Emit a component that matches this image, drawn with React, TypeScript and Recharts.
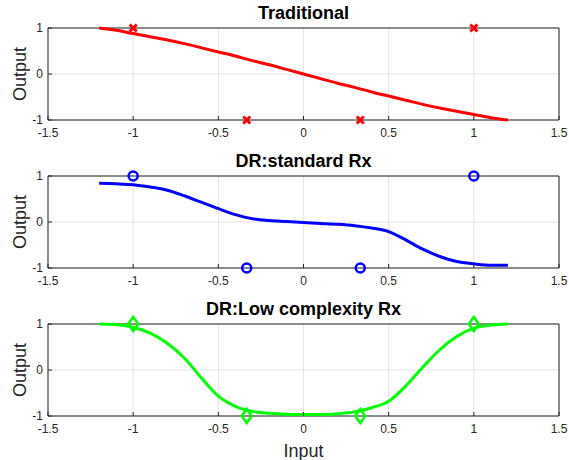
import React from 'react';
import { ComposedChart, Line, Scatter, XAxis, YAxis, CartesianGrid, ReferenceArea } from 'recharts';

const xTicks = [-1.5, -1, -0.5, 0, 0.5, 1, 1.5];
const yTicks = [-1, 0, 1];
const titles = ['Traditional', 'DR:standard Rx', 'DR:Low complexity Rx'];

const curveX = [-1.2, -1.1, -1.0, -0.9, -0.8, -0.7, -0.6, -0.5, -0.4, -0.3, -0.2, -0.1, 0, 0.1, 0.2, 0.3, 0.4, 0.5, 0.6, 0.7, 0.8, 0.9, 1.0, 1.1, 1.2];
const traditionalY = [1.0, 0.95, 0.88, 0.81, 0.74, 0.66, 0.57, 0.48, 0.39, 0.29, 0.2, 0.1, 0, -0.1, -0.2, -0.29, -0.39, -0.48, -0.57, -0.66, -0.74, -0.81, -0.88, -0.95, -1.0];
const standardY = [0.84, 0.83, 0.81, 0.76, 0.69, 0.57, 0.43, 0.29, 0.16, 0.07, 0.03, 0.01, -0.01, -0.03, -0.05, -0.08, -0.13, -0.21, -0.39, -0.59, -0.75, -0.86, -0.91, -0.94, -0.94];
const lowComplexityY = [1.0, 0.99, 0.93, 0.8, 0.58, 0.26, -0.17, -0.57, -0.79, -0.9, -0.94, -0.96, -0.97, -0.97, -0.95, -0.91, -0.82, -0.68, -0.35, 0.06, 0.44, 0.73, 0.91, 0.98, 1.0];

const pointX = [-1, -1 / 3, 1 / 3, 1];
const pointY = [1, -1, -1, 1];

const toRows = (ys: number[]) => curveX.map((x, i) => ({ x, y: ys[i] }));
const points = pointX.map((x, i) => ({ x, y: pointY[i] }));

const FONT = '"Liberation Sans", Arial, Helvetica, sans-serif';

const XMark = (props: any) => {
  const { cx, cy } = props;
  const s = 3.5;
  return (
    <g stroke="#ff0000" strokeWidth={3}>
      <line x1={cx - s} y1={cy - s} x2={cx + s} y2={cy + s} />
      <line x1={cx - s} y1={cy + s} x2={cx + s} y2={cy - s} />
    </g>
  );
};
const OMark = (props: any) => {
  const { cx, cy } = props;
  return <circle cx={cx} cy={cy} r={4.5} fill="none" stroke="#0000ff" strokeWidth={2.5} />;
};
const DMark = (props: any) => {
  const { cx, cy } = props;
  const w = 5, h = 7;
  return (
    <polygon
      points={`${cx},${cy - h} ${cx + w},${cy} ${cx},${cy + h} ${cx - w},${cy}`}
      fill="none"
      stroke="#00ff00"
      strokeWidth={2.5}
    />
  );
};

const series = [
  { ys: traditionalY, color: '#ff0000', shape: XMark },
  { ys: standardY, color: '#0000ff', shape: OMark },
  { ys: lowComplexityY, color: '#00ff00', shape: DMark },
];

const tickStyle = { fontSize: 12, fill: '#262626', fontFamily: FONT };
const tickLineStyle = { stroke: '#262626' };

const Panel = ({ idx }: { idx: number }) => {
  const s = series[idx];
  const last = idx === 2;
  return (
    <div style={{ position: 'absolute', left: 0, top: idx * 148, width: 569 }}>
      <div
        style={{
          position: 'absolute',
          left: 48,
          width: 511,
          top: 4,
          textAlign: 'center',
          fontFamily: FONT,
          fontWeight: 'bold',
          fontSize: 18,
          color: '#000',
          lineHeight: '18px',
          whiteSpace: 'nowrap',
        }}
      >
        {titles[idx]}
      </div>
      <ComposedChart
        width={569}
        height={last ? 164 : 148}
        margin={{ top: 28, right: 10, bottom: 0, left: 0 }}
        style={{ fontFamily: FONT }}
      >
        <CartesianGrid stroke="#e3e3e3" strokeWidth={1} />
        <XAxis
          type="number"
          dataKey="x"
          domain={[-1.5, 1.5]}
          ticks={xTicks}
          allowDataOverflow
          height={last ? 44 : 28}
          axisLine={false}
          tickSize={-4}
          tickMargin={12}
          tickLine={tickLineStyle}
          tick={tickStyle}
          interval={0}
          label={last ? { value: 'Input', position: 'insideBottom', offset: 3, fontSize: 18, fill: '#262626', fontFamily: FONT } : undefined}
        />
        <XAxis
          xAxisId="top"
          orientation="top"
          type="number"
          domain={[-1.5, 1.5]}
          ticks={xTicks}
          height={0}
          axisLine={false}
          tickSize={-4}
          tickLine={tickLineStyle}
          tick={false}
          interval={0}
        />
        <YAxis
          type="number"
          dataKey="y"
          domain={[-1, 1]}
          ticks={yTicks}
          width={48}
          axisLine={false}
          tickSize={-4}
          tickMargin={9}
          tickLine={tickLineStyle}
          tick={tickStyle}
          interval={0}
          label={{ value: 'Output', angle: -90, position: 'insideLeft', offset: 20, fontSize: 18, fill: '#262626', fontFamily: FONT, style: { textAnchor: 'middle' } }}
        />
        <YAxis
          yAxisId="right"
          orientation="right"
          type="number"
          domain={[-1, 1]}
          ticks={yTicks}
          width={0}
          axisLine={false}
          tickSize={-4}
          tickLine={tickLineStyle}
          tick={false}
          interval={0}
        />
        <ReferenceArea x1={-1.5} x2={1.5} y1={-1} y2={1} fill="none" stroke="#262626" strokeWidth={1} />
        <Line
          data={toRows(s.ys)}
          dataKey="y"
          type="monotone"
          stroke={s.color}
          strokeWidth={3}
          dot={false}
          activeDot={false}
          isAnimationActive={false}
        />
        <Scatter data={points} dataKey="y" shape={s.shape} isAnimationActive={false} />
      </ComposedChart>
    </div>
  );
}

export default function App() {
  return (
    <div style={{ position: 'absolute', left: 0, top: 0, width: 569, height: 460, background: '#fff' }}>
      <Panel idx={0} />
      <Panel idx={1} />
      <Panel idx={2} />
    </div>
  );
}
